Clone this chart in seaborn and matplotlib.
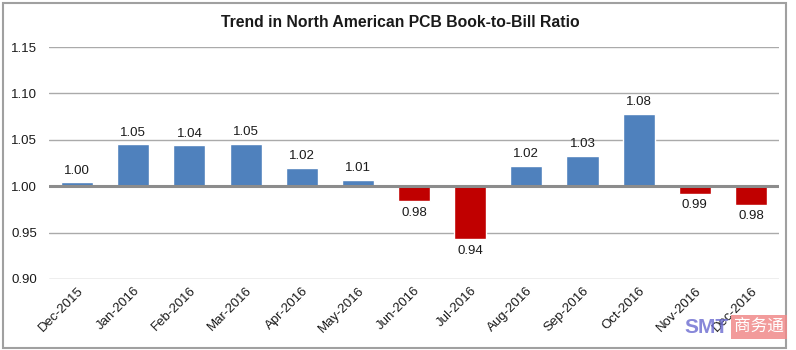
import matplotlib
matplotlib.use("Agg")
import matplotlib.pyplot as plt
import numpy as np
import pandas as pd
import seaborn as sns
from matplotlib.patches import Rectangle
from matplotlib.ticker import FixedLocator, FuncFormatter

months = ["Dec-2015", "Jan-2016", "Feb-2016", "Mar-2016", "Apr-2016", "May-2016", "Jun-2016",
          "Jul-2016", "Aug-2016", "Sep-2016", "Oct-2016", "Nov-2016", "Dec-2016"]
ratios = [1.004, 1.045, 1.044, 1.046, 1.020, 1.007, 0.984, 0.943, 1.022, 1.033, 1.078, 0.992, 0.980]
labels = ["1.00", "1.05", "1.04", "1.05", "1.02", "1.01", "0.98", "0.94", "1.02", "1.03", "1.08", "0.99", "0.98"]
y_ticks = [0.90, 0.95, 1.00, 1.05, 1.10, 1.15]

BASE = 1.0
df = pd.DataFrame({"month": months, "ratio": ratios, "label": labels})
df["delta"] = df["ratio"] - BASE
df["side"] = np.where(df["delta"] >= 0, "up", "down")

sns.set_theme(style="white")
plt.rcParams["font.family"] = ["Liberation Sans", "DejaVu Sans"]

fig = plt.figure(figsize=(7.96, 3.5), dpi=100)
ax = fig.add_axes([0.0616, 0.2029, 0.9171, 0.6628])

sns.barplot(data=df, x="month", y="delta", hue="side", dodge=False, legend=False,
            palette={"up": "#4F81BD", "down": "#C00000"}, width=0.57, saturation=1,
            ax=ax, zorder=2)

# gridlines + baseline at 1.00
ax.set_ylim(y_ticks[0] - BASE, y_ticks[-1] - BASE)
ax.yaxis.set_major_locator(FixedLocator([t - BASE for t in y_ticks]))
ax.yaxis.set_major_formatter(FuncFormatter(lambda v, _: f"{v + BASE:.2f}"))
ax.grid(axis="y", color="#aaaaaa", linewidth=1.0, zorder=0)
ax.set_axisbelow(True)
ax.axhline(0, color="#8c8c8c", linewidth=2.2, zorder=3)
ax.set_xlim(-0.5, len(months) - 0.5)

for s in ax.spines.values():
    s.set_visible(False)

ax.set_xlabel("")
ax.set_ylabel("")
ax.tick_params(axis="y", length=0, pad=8.5, labelsize=9.5, labelcolor="#1a1a1a")
ax.tick_params(axis="x", length=0, pad=4, labelsize=9.5, labelcolor="#1a1a1a")
plt.setp(ax.get_xticklabels(), rotation=45, ha="right", rotation_mode="anchor")

# data labels
for i, row in df.iterrows():
    if row["delta"] >= 0:
        ax.annotate(row["label"], (i, row["delta"]), xytext=(0, 4), textcoords="offset points",
                    ha="center", va="bottom", fontsize=9.5, color="#1a1a1a")
    else:
        ax.annotate(row["label"], (i, row["delta"]), xytext=(0, -4), textcoords="offset points",
                    ha="center", va="top", fontsize=9.5, color="#1a1a1a")

fig.text(0.503, 0.937, "Trend in North American PCB Book-to-Bill Ratio",
         ha="center", va="center", fontsize=11.3, fontweight="bold", color="#1a1a1a")

# chart frame
fig.patches.append(Rectangle((0.004, 0.006), 0.984, 0.986, transform=fig.transFigure,
                             fill=False, edgecolor="#a0a0a0", linewidth=1.5))

# watermark
fig.text(0.860, 0.065, "SMT", ha="left", va="center", fontsize=15, fontweight="bold",
         color="#6a6ad0", alpha=0.8)
fig.text(0.922, 0.065, "商务通", ha="left", va="center", fontsize=12,
         family=["Noto Sans CJK SC", "DejaVu Sans"], color="white",
         bbox=dict(boxstyle="square,pad=0.2", facecolor="#f08a8a", edgecolor="none", alpha=0.85))

fig.savefig("out.png", dpi=100)
